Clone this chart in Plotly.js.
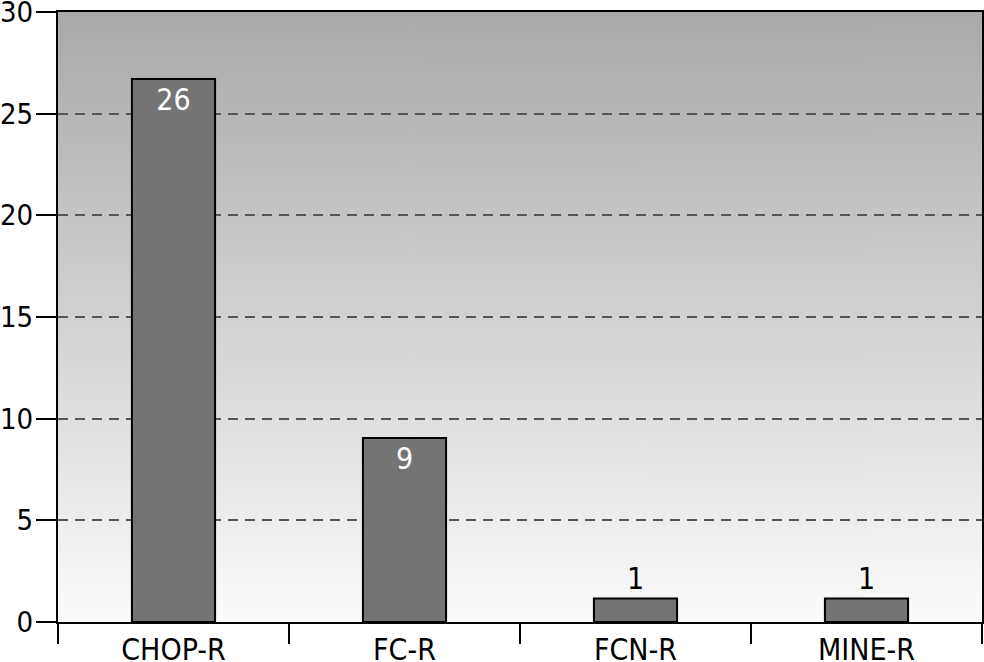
<!DOCTYPE html>
<html>
<head>
<meta charset="utf-8">
<script src="https://cdn.plot.ly/plotly-3.0.1.min.js"></script>
<style>html,body{margin:0;padding:0;background:#fff;}#chart{width:984px;height:662px;}</style>
</head>
<body>
<div id="chart"></div>
<script>
// Data
const categories = ["CHOP-R", "FC-R", "FCN-R", "MINE-R"];
const barHeights = [26.7, 9.05, 1.15, 1.15];
const barLabels = ["26", "9", "1", "1"];
const labelPositions = ["inside", "inside", "outside", "outside"];
const yTicks = [0, 5, 10, 15, 20, 25, 30];

// Background gradient (top gray -> bottom near-white)
const cv = document.createElement("canvas");
cv.width = 4; cv.height = 256;
const ctx = cv.getContext("2d");
const g = ctx.createLinearGradient(0, 0, 0, 256);
g.addColorStop(0, "#a9a9a9");
g.addColorStop(1, "#fbfbfb");
ctx.fillStyle = g;
ctx.fillRect(0, 0, 4, 256);
const bgURL = cv.toDataURL("image/png");

const font = "DejaVu Sans Condensed, DejaVu Sans, sans-serif";
const fs = 30;

const trace = {
  type: "bar",
  x: categories,
  y: barHeights,
  text: barLabels,
  textposition: labelPositions,
  insidetextanchor: "end",
  insidetextfont: {color: "#ffffff", size: fs, family: font},
  outsidetextfont: {color: "#000000", size: fs, family: font},
  constraintext: "none",
  cliponaxis: false,
  width: 0.36,
  marker: {color: "#747474", line: {color: "#000000", width: 2}},
  hoverinfo: "none"
};

const layout = {
  width: 984,
  height: 662,
  margin: {l: 58, r: 2, t: 12, b: 40},
  paper_bgcolor: "#ffffff",
  plot_bgcolor: "rgba(0,0,0,0)",
  showlegend: false,
  font: {family: font, size: fs, color: "#000"},
  images: [{
    source: bgURL, xref: "paper", yref: "paper",
    x: 0, y: 1, sizex: 1, sizey: 1, sizing: "stretch",
    xanchor: "left", yanchor: "top", layer: "below"
  }],
  xaxis: {
    type: "category",
    range: [-0.5, 3.5],
    tickson: "boundaries",
    ticks: "outside",
    ticklen: 20,
    tickwidth: 2,
    tickcolor: "#000",
    showgrid: false,
    showline: true,
    linecolor: "#000",
    linewidth: 2,
    mirror: true,
    ticklabeloverflow: "allow",
    tickfont: {size: fs, family: font, color: "#000"},
    fixedrange: true
  },
  yaxis: {
    range: [0, 30],
    tickvals: yTicks,
    ticktext: yTicks.map(String),
    ticks: "outside",
    ticklen: 20,
    tickwidth: 2,
    tickcolor: "#000",
    ticklabelstandoff: -3,
    showgrid: true,
    gridcolor: "#555555",
    gridwidth: 2,
    griddash: "10px,7px",
    zeroline: false,
    showline: true,
    linecolor: "#000",
    linewidth: 2,
    mirror: true,
    ticklabeloverflow: "allow",
    tickfont: {size: 29, family: font, color: "#000"},
    fixedrange: true
  },
  bargap: 0.64
};

Plotly.newPlot("chart", [trace], layout, {displayModeBar: false, staticPlot: true});
</script>
</body>
</html>
